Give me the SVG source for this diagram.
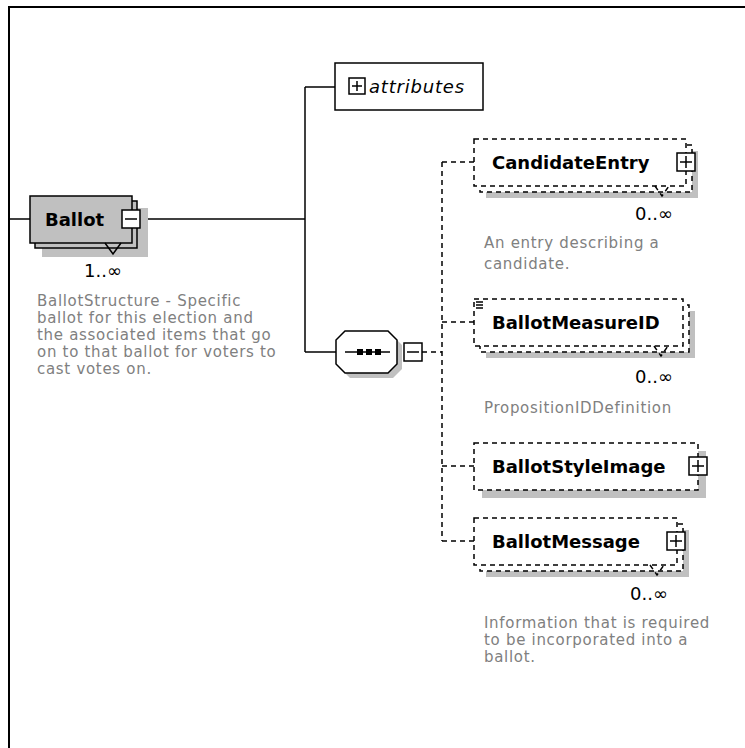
<svg xmlns="http://www.w3.org/2000/svg" width="745" height="748" viewBox="0 0 745 748">
<style>
.frame{fill:none;stroke:#000;stroke-width:2}
.ln{fill:none;stroke:#000;stroke-width:1.5}
.dl{fill:none;stroke:#000;stroke-width:1.5;stroke-dasharray:5 4}
.shadow{fill:#c0c0c0;stroke:none}
.gbox{fill:#c0c0c0;stroke:#000;stroke-width:1.5}
.obox{fill:#fff;stroke:#000;stroke-width:1.5;stroke-dasharray:5 4}
.wbox{fill:#fff;stroke:#000;stroke-width:1.5}
.lbl{font-family:"DejaVu Sans",sans-serif;font-weight:bold;font-size:18px;fill:#000}
.mult{font-family:"DejaVu Sans",sans-serif;font-size:18px;fill:#000}
.desc{font-family:"DejaVu Sans",sans-serif;font-size:15px;letter-spacing:0.7px;fill:#808080}
.attr{font-family:"DejaVu Sans",sans-serif;font-style:italic;font-size:18px;letter-spacing:0.8px;fill:#000}
</style>
<path class="frame" d="M9,748 V7 H745"/>
<g id="connectors">
<line class="ln" x1="9" y1="219" x2="30" y2="219"/>
<line class="ln" x1="140" y1="219" x2="305" y2="219"/>
<line class="ln" x1="305" y1="87" x2="305" y2="352"/>
<line class="ln" x1="305" y1="87" x2="335" y2="87"/>
<line class="ln" x1="305" y1="352" x2="336" y2="352"/>
<line class="dl" x1="422" y1="352" x2="442" y2="352"/>
<line class="dl" x1="442" y1="162" x2="442" y2="541"/>
<line class="dl" x1="442" y1="162" x2="474" y2="162"/>
<line class="dl" x1="442" y1="322" x2="474" y2="322"/>
<line class="dl" x1="442" y1="466" x2="474" y2="466"/>
<line class="dl" x1="442" y1="541" x2="474" y2="541"/>
</g>
<g id="ballot">
<rect class="shadow" x="42" y="208" width="106" height="49"/>
<rect class="gbox" x="35" y="201" width="102" height="47"/>
<rect class="gbox" x="30" y="196" width="102" height="47"/>
<polyline class="ln" points="105,243 113,254 121,243" fill="#c0c0c0"/>
<text class="lbl" x="45" y="225.5">Ballot</text>
<rect class="wbox" x="122" y="210" width="18" height="18"/>
<line class="ln" x1="125" y1="219" x2="137" y2="219"/>
<text class="mult" x="122" y="277" text-anchor="end">1..∞</text>
<text class="desc" x="37" y="306">BallotStructure - Specific</text>
<text class="desc" x="37" y="323">ballot for this election and</text>
<text class="desc" x="37" y="340">the associated items that go</text>
<text class="desc" x="37" y="357">on to that ballot for voters to</text>
<text class="desc" x="37" y="374">cast votes on.</text>
</g>
<g id="attributes">
<rect class="wbox" x="335" y="63" width="148" height="47"/>
<rect class="wbox" x="349" y="78" width="16" height="16"/>
<line class="ln" x1="352" y1="86" x2="362" y2="86"/>
<line class="ln" x1="357" y1="81" x2="357" y2="91"/>
<text class="attr" x="369" y="93">attributes</text>
</g>
<g id="sequence">
<polygon class="shadow" points="350,336 393,336 402,345 402,369 393,378 350,378 341,369 341,345"/>
<polygon class="wbox" points="345,331 388,331 397,340 397,364 388,373 345,373 336,364 336,340"/>
<line class="ln" x1="345" y1="352" x2="390" y2="352"/>
<rect x="357" y="349" width="6" height="6" fill="#000"/>
<rect x="366" y="349" width="6" height="6" fill="#000"/>
<rect x="375" y="349" width="6" height="6" fill="#000"/>
<rect class="wbox" x="404" y="343" width="18" height="18"/>
<line class="ln" x1="407" y1="352" x2="419" y2="352"/>
</g>
<g id="candidateEntry">
<rect class="shadow" x="486" y="151" width="212" height="47"/>
<rect class="obox" x="480" y="145" width="212" height="47"/>
<rect class="obox" x="474" y="139" width="212" height="47"/>
<polyline class="dl" points="655,186 662,196 669,186"/>
<text class="lbl" x="492" y="168.5">CandidateEntry</text>
<rect class="wbox" x="677" y="153" width="18" height="18"/>
<line class="ln" x1="680" y1="162" x2="692" y2="162"/>
<line class="ln" x1="686" y1="156" x2="686" y2="168"/>
<text class="mult" x="673" y="220" text-anchor="end">0..∞</text>
<text class="desc" x="484" y="248">An entry describing a</text>
<text class="desc" x="484" y="269">candidate.</text>
</g>
<g id="ballotMeasureID">
<rect class="shadow" x="486" y="311" width="209" height="47"/>
<rect class="obox" x="480" y="305" width="209" height="47"/>
<rect class="obox" x="474" y="299" width="209" height="47"/>
<line class="ln" x1="476" y1="302" x2="483" y2="302"/>
<line class="ln" x1="476" y1="305" x2="483" y2="305"/>
<line class="ln" x1="476" y1="308" x2="483" y2="308"/>
<polyline class="dl" points="654,346 661,356 668,346"/>
<text class="lbl" x="492" y="328.5">BallotMeasureID</text>
<text class="mult" x="673" y="383" text-anchor="end">0..∞</text>
<text class="desc" x="484" y="413">PropositionIDDefinition</text>
</g>
<g id="ballotStyleImage">
<rect class="shadow" x="482" y="451" width="224" height="47"/>
<rect class="obox" x="474" y="443" width="224" height="47"/>
<text class="lbl" x="492" y="472.5">BallotStyleImage</text>
<rect class="wbox" x="689" y="457" width="18" height="18"/>
<line class="ln" x1="692" y1="466" x2="704" y2="466"/>
<line class="ln" x1="698" y1="460" x2="698" y2="472"/>
</g>
<g id="ballotMessage">
<rect class="shadow" x="486" y="530" width="203" height="47"/>
<rect class="obox" x="480" y="524" width="203" height="47"/>
<rect class="obox" x="474" y="518" width="203" height="47"/>
<polyline class="dl" points="650,565 657,575 664,565"/>
<text class="lbl" x="492" y="547.5">BallotMessage</text>
<rect class="wbox" x="667" y="532" width="18" height="18"/>
<line class="ln" x1="670" y1="541" x2="682" y2="541"/>
<line class="ln" x1="676" y1="535" x2="676" y2="547"/>
<text class="mult" x="668" y="600" text-anchor="end">0..∞</text>
<text class="desc" x="484" y="628">Information that is required</text>
<text class="desc" x="484" y="645">to be incorporated into a</text>
<text class="desc" x="484" y="662">ballot.</text>
</g>
</svg>
